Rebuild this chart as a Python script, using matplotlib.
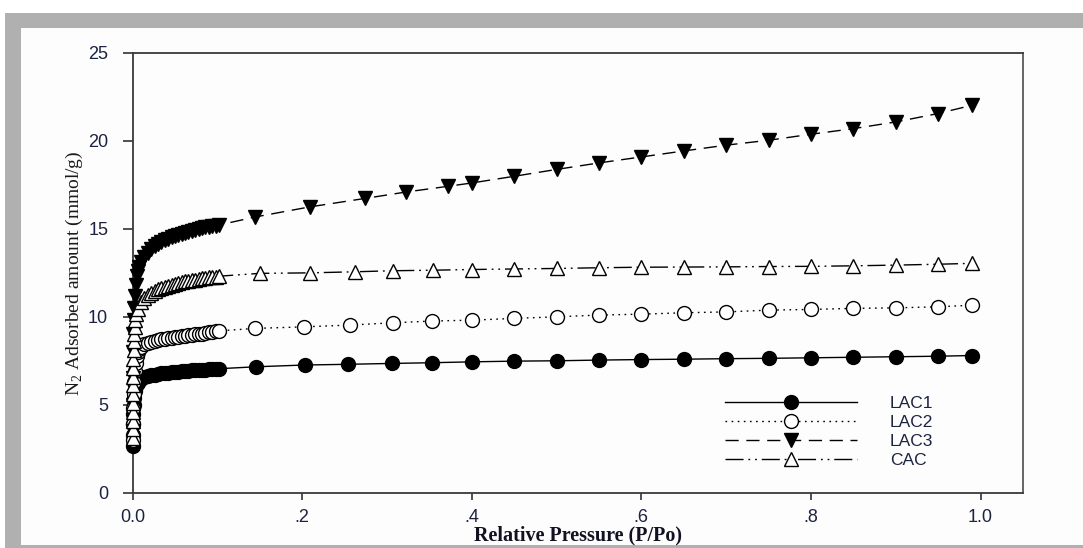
import matplotlib
matplotlib.use("Agg")
import matplotlib.pyplot as plt
from matplotlib.patches import Rectangle

plt.rcParams["mathtext.fontset"] = "custom"
plt.rcParams["mathtext.rm"] = "Liberation Serif"

# ---- data: relative pressure (P/Po) and N2 adsorbed amount (mmol/g) ----
# shared dense sampling of the low-pressure knee (0.01 - 0.10)
p_knee = [0.010, 0.014, 0.018, 0.022, 0.026, 0.030, 0.034, 0.038, 0.042, 0.046,
          0.050, 0.054, 0.058, 0.062, 0.066, 0.070, 0.074, 0.078, 0.082, 0.086,
          0.090, 0.094, 0.098, 0.102]

# LAC1
p_lac1_col = [0.0, 0.0003, 0.0006, 0.001, 0.0015, 0.002, 0.003, 0.004, 0.006, 0.008]
n_lac1_col = [2.65, 3.3, 3.9, 4.5, 5.0, 5.4, 5.8, 6.05, 6.25, 6.38]
n_lac1_knee = [6.48, 6.56, 6.62, 6.67, 6.71, 6.75, 6.78, 6.81, 6.83, 6.85,
               6.87, 6.89, 6.91, 6.92, 6.94, 6.95, 6.97, 6.98, 6.99, 7.00,
               7.02, 7.03, 7.04, 7.05]
p_lac1_high = [0.146, 0.203, 0.254, 0.306, 0.353, 0.40, 0.45, 0.50, 0.55,
               0.60, 0.65, 0.70, 0.75, 0.80, 0.85, 0.90, 0.95, 0.99]
n_lac1_high = [7.16, 7.26, 7.30, 7.35, 7.39, 7.44, 7.48, 7.50, 7.54,
               7.57, 7.59, 7.62, 7.64, 7.67, 7.70, 7.73, 7.76, 7.80]

# LAC2
p_lac2_col = [0.0002, 0.0005, 0.001, 0.0015, 0.002, 0.003, 0.004, 0.005, 0.006, 0.008]
n_lac2_col = [3.0, 3.9, 4.8, 5.6, 6.3, 6.9, 7.4, 7.8, 8.0, 8.15]
n_lac2_knee = [8.30, 8.44, 8.53, 8.59, 8.64, 8.68, 8.72, 8.75, 8.78, 8.81,
               8.84, 8.87, 8.90, 8.92, 8.95, 8.97, 9.00, 9.02, 9.05, 9.08,
               9.11, 9.14, 9.17, 9.20]
p_lac2_high = [0.144, 0.202, 0.256, 0.307, 0.353, 0.40, 0.45, 0.50, 0.55,
               0.60, 0.65, 0.70, 0.75, 0.80, 0.85, 0.90, 0.95, 0.99]
n_lac2_high = [9.34, 9.43, 9.53, 9.66, 9.76, 9.81, 9.91, 10.00, 10.10,
               10.15, 10.23, 10.28, 10.38, 10.42, 10.48, 10.51, 10.57, 10.66]

# LAC3
p_lac3_col = [0.0001, 0.0003, 0.0005, 0.0008, 0.001, 0.0015, 0.002, 0.003, 0.004,
              0.005, 0.006, 0.008]
n_lac3_col = [3.5, 5.0, 6.5, 8.0, 9.0, 9.8, 10.5, 11.2, 11.8, 12.3, 12.6, 12.85]
n_lac3_knee = [13.10, 13.40, 13.64, 13.84, 14.00, 14.13, 14.25, 14.35, 14.44, 14.52,
               14.60, 14.67, 14.73, 14.79, 14.85, 14.90, 14.95, 15.00, 15.04, 15.08,
               15.12, 15.16, 15.19, 15.22]
p_lac3_high = [0.145, 0.209, 0.274, 0.323, 0.372, 0.40, 0.45, 0.50, 0.55,
               0.60, 0.65, 0.70, 0.75, 0.80, 0.85, 0.90, 0.95, 0.99]
n_lac3_high = [15.68, 16.25, 16.73, 17.10, 17.42, 17.61, 17.99, 18.38, 18.75,
               19.09, 19.43, 19.76, 20.04, 20.38, 20.70, 21.08, 21.56, 22.03]

# CAC
p_cac_col = [0.0, 0.0001, 0.0002, 0.0003, 0.0004, 0.0005, 0.0006, 0.0007, 0.0008,
             0.001, 0.0012, 0.0015, 0.002, 0.0025, 0.003, 0.004, 0.006]
n_cac_col = [3.1, 3.6, 4.1, 4.6, 5.1, 5.6, 6.1, 6.6, 7.1, 7.6, 8.1, 8.6, 9.0,
             9.4, 9.8, 10.15, 10.45]
n_cac_knee = [10.85, 11.05, 11.22, 11.36, 11.47, 11.56, 11.64, 11.71, 11.77, 11.83,
              11.88, 11.93, 11.97, 12.01, 12.05, 12.09, 12.12, 12.15, 12.18, 12.21,
              12.24, 12.26, 12.29, 12.31]
p_cac_high = [0.150, 0.209, 0.262, 0.307, 0.354, 0.40, 0.45, 0.50, 0.55,
              0.60, 0.65, 0.70, 0.75, 0.80, 0.85, 0.90, 0.95, 0.99]
n_cac_high = [12.47, 12.50, 12.56, 12.62, 12.65, 12.69, 12.72, 12.75, 12.79,
              12.82, 12.83, 12.84, 12.86, 12.87, 12.90, 12.94, 12.99, 13.04]

labels = ["LAC1", "LAC2", "LAC3", "CAC"]
x_ticks = [0.0, 0.2, 0.4, 0.6, 0.8, 1.0]
x_ticklabels = ["0.0", ".2", ".4", ".6", ".8", "1.0"]
y_ticks = [0, 5, 10, 15, 20, 25]

# ---- styles ----
styles = {
    "LAC1": dict(marker="o", mfc="black", dashes=()),
    "LAC2": dict(marker="o", mfc="white", dashes=(1.2, 3.2)),
    "LAC3": dict(marker="v", mfc="black", dashes=(9.5, 5.5)),
    "CAC": dict(marker="^", mfc="white", dashes=(13, 3.5, 1.3, 3.5, 1.3, 3.5)),
}

series = {
    "LAC1": (p_lac1_col + p_knee + p_lac1_high, n_lac1_col + n_lac1_knee + n_lac1_high),
    "LAC2": (p_lac2_col + p_knee + p_lac2_high, n_lac2_col + n_lac2_knee + n_lac2_high),
    "LAC3": (p_lac3_col + p_knee + p_lac3_high, n_lac3_col + n_lac3_knee + n_lac3_high),
    "CAC": (p_cac_col + p_knee + p_cac_high, n_cac_col + n_cac_knee + n_cac_high),
}

W, H = 1083, 548
fig = plt.figure(figsize=(W / 100, H / 100), dpi=100, facecolor="white")

# grey page frame around the figure
fig.patches.append(Rectangle((5 / W, 0), 1, 1 - 13 / H, transform=fig.transFigure,
                             facecolor="#b0b0b0", edgecolor="none", zorder=-10))
fig.patches.append(Rectangle((21 / W, 3 / H), 1, 1 - 31 / H, transform=fig.transFigure,
                             facecolor="#fdfdfd", edgecolor="none", zorder=-9))

ax = fig.add_axes([132.5 / W, 1 - 492.7 / H, (1023 - 132.5) / W, (492.7 - 53) / H])
ax.set_facecolor("none")

handles = []
for name in labels:
    st = styles[name]
    x, y = series[name]
    msize = 10.5 if st["marker"] in ("v", "^") else 10
    line, = ax.plot(x, y, color="black", lw=1.0,
                    linestyle="-" if not st["dashes"] else "--",
                    marker=st["marker"], markersize=msize,
                    markerfacecolor=st["mfc"], markeredgecolor="black",
                    markeredgewidth=1.0, clip_on=False, zorder=3)
    if st["dashes"]:
        line.set_dashes(st["dashes"])
    handles.append(line)

ax.set_xlim(0, 1.05)
ax.set_ylim(0, 25)
ax.set_xticks(x_ticks)
ax.set_xticklabels(x_ticklabels)
ax.set_yticks(y_ticks)

tick_color = "#1c2340"
ax.tick_params(axis="y", direction="out", length=7.5, width=1.2, pad=10,
               labelsize=13, labelcolor=tick_color, color="#333333")
ax.tick_params(axis="x", direction="out", length=5, width=1.2, pad=7,
               labelsize=13, labelcolor=tick_color, color="#333333")
for lab in ax.get_xticklabels() + ax.get_yticklabels():
    lab.set_family("Liberation Sans")

for side in ["left", "bottom", "top", "right"]:
    ax.spines[side].set_linewidth(1.3)
    ax.spines[side].set_color("#3a3a3a")
ax.spines["right"].set_color("#5a5a5a")

ax.set_xlabel("Relative Pressure (P/Po)", family="Liberation Serif", fontweight="bold",
              fontsize=14.5, color="#111122", labelpad=-0.5)
ax.set_ylabel("N$_2$ Adsorbed amount (mmol/g)", family="Liberation Serif",
              fontsize=14, color="#1a1a1a", labelpad=2)

leg = ax.legend(handles, labels, loc="upper left", bbox_to_anchor=(0.6654, 0.221),
                frameon=False, numpoints=1, handlelength=7.6, handletextpad=1.9,
                labelspacing=0.22, borderpad=0, borderaxespad=0,
                prop={"family": "Liberation Sans", "size": 12.5})
for t in leg.get_texts():
    t.set_color(tick_color)

fig.savefig("out.png", dpi=100)
